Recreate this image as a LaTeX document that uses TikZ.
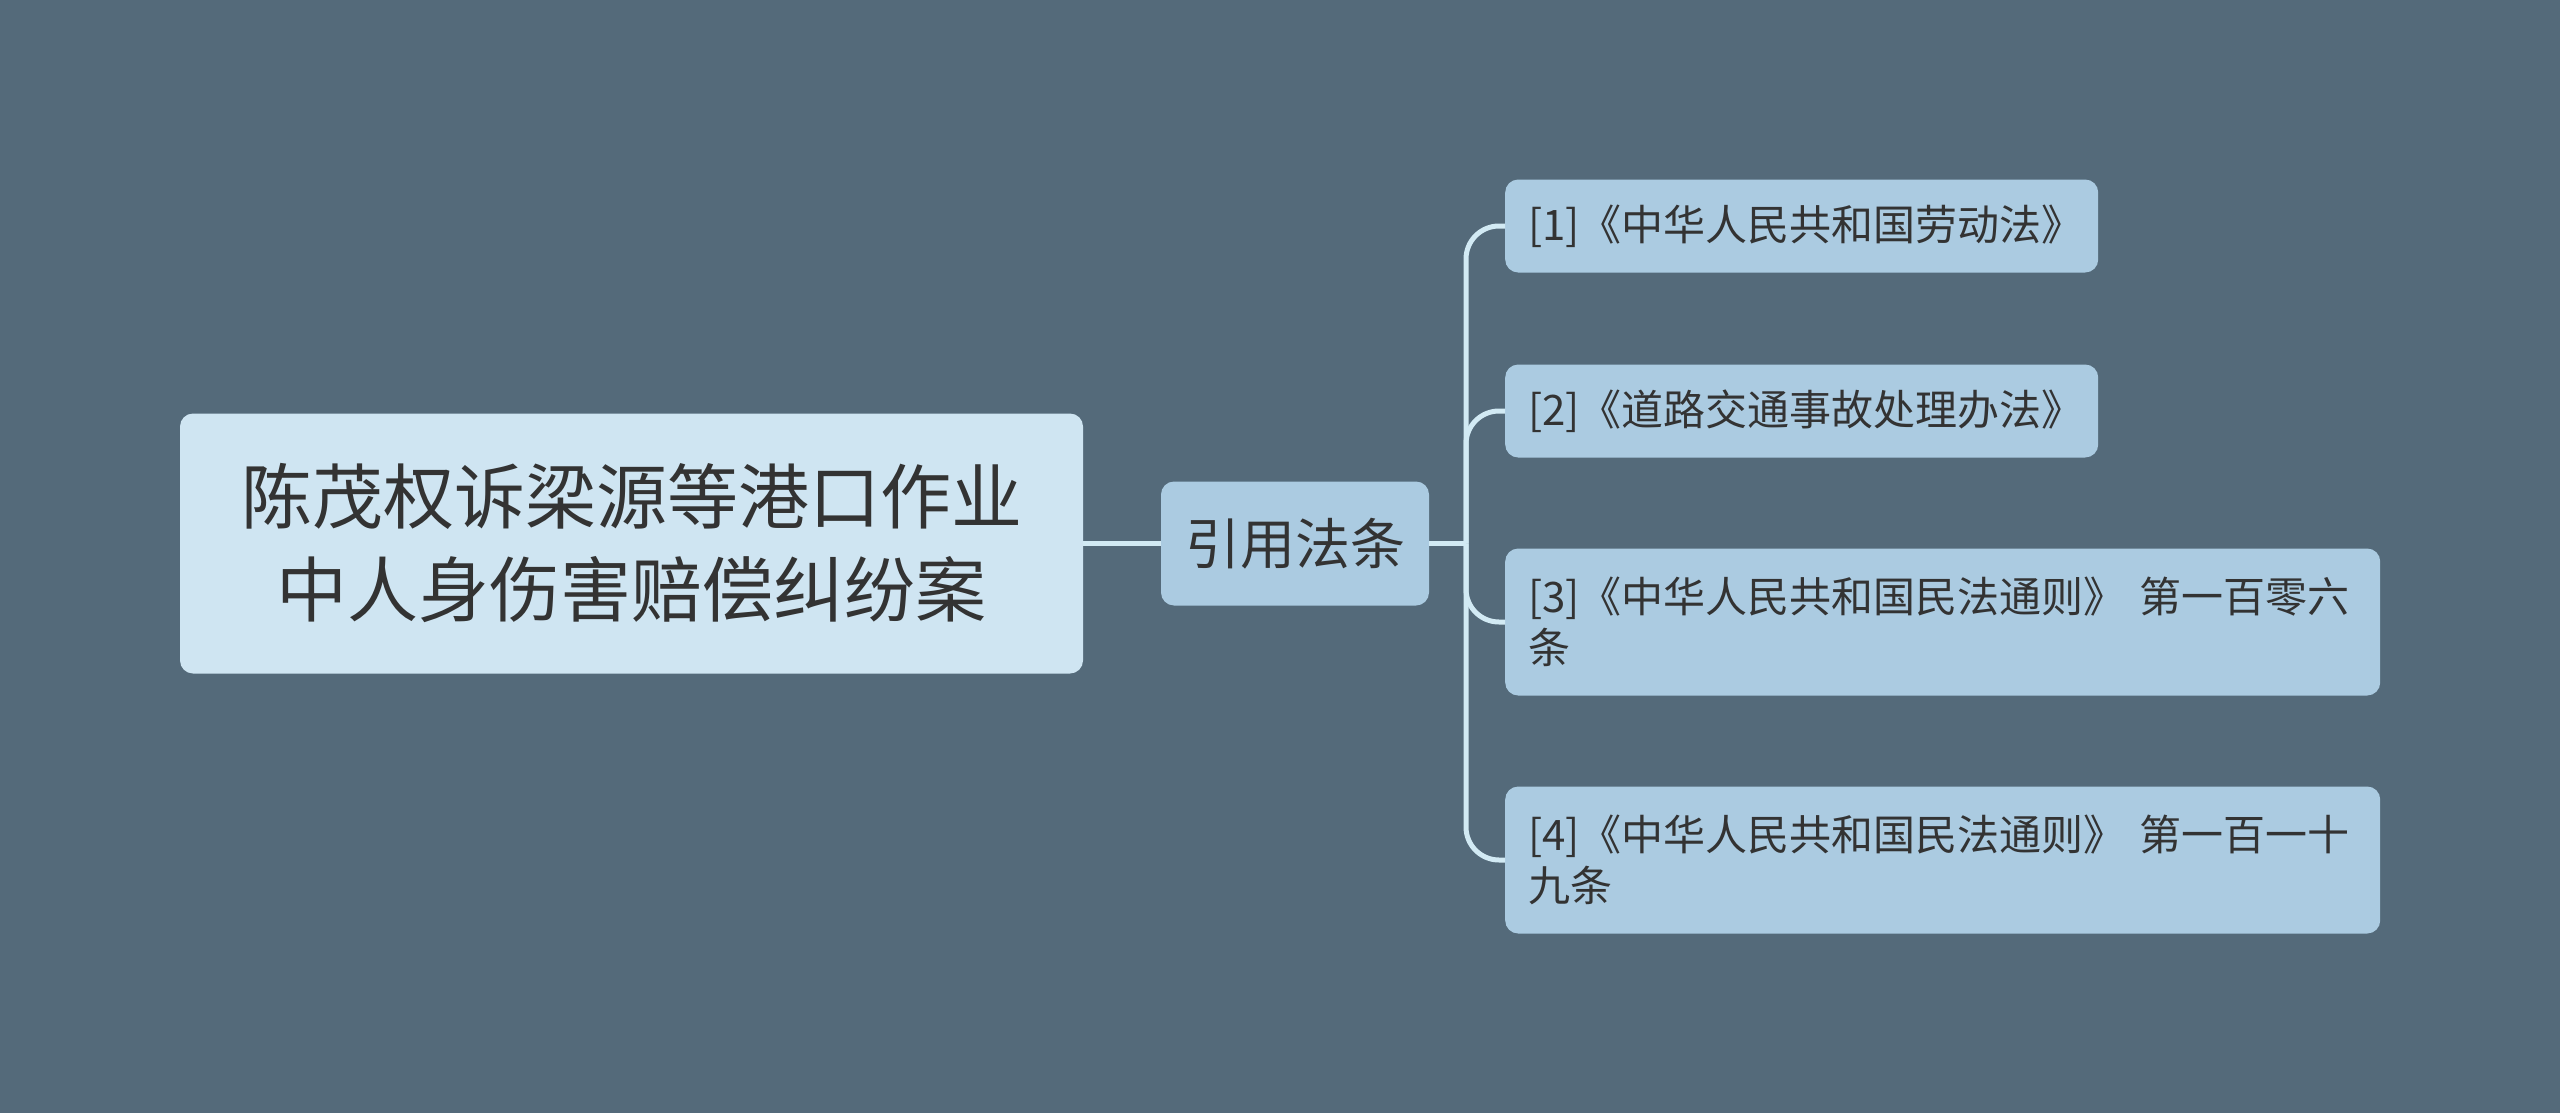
\documentclass[tikz,border=0pt]{standalone}
\usepackage{fontspec}
\setmainfont{Noto Sans CJK SC}
\definecolor{bgc}{HTML}{546A7A}
\definecolor{rootc}{HTML}{CFE5F2}
\definecolor{leafc}{HTML}{ABCBE1}
\definecolor{linec}{HTML}{D2EAF4}
\definecolor{txtc}{HTML}{333333}
\tikzset{
  rootbox/.style={fill=rootc, rounded corners=13pt, minimum width=903pt, minimum height=260pt, align=center, text=txtc, inner sep=0pt, font=\fontsize{71}{93}\selectfont},
  midbox/.style={fill=leafc, rounded corners=13pt, minimum width=268pt, minimum height=124pt, align=center, text=txtc, inner sep=0pt, font=\fontsize{55}{60}\selectfont},
  leafbox/.style={fill=leafc, rounded corners=13pt, anchor=west, align=left, text=txtc, inner xsep=23pt, inner ysep=0pt, font=\fontsize{42}{51}\selectfont},
  conn/.style={draw=linec, line width=5pt},
}
\begin{document}
\begin{tikzpicture}[x=1pt,y=-1pt]
\fill[bgc] (0,0) rectangle (2560,1113);
\useasboundingbox (0,0) rectangle (2560,1113);
\node[rootbox] (root) at (631.5,543.5) {陈茂权诉梁源等港口作业\\中人身伤害赔偿纠纷案};
\node[midbox] (mid) at (1295,543.5) {引用法条};
\node[leafbox, text width=547pt, minimum height=93pt] (l1) at (1505,226) {[1]《中华人民共和国劳动法》};
\node[leafbox, text width=547pt, minimum height=93pt] (l2) at (1505,411) {[2]《道路交通事故处理办法》};
\node[leafbox, text width=829pt, minimum height=147pt] (l3) at (1505,622) {[3]《中华人民共和国民法通则》 第一百零六\\条};
\node[leafbox, text width=829pt, minimum height=147pt] (l4) at (1505,860) {[4]《中华人民共和国民法通则》 第一百一十\\九条};
\coordinate (tr) at (1466,543.5);
\draw[conn] (root.east) -- (mid.west);
\draw[conn] (mid.east) -- (tr);
\foreach \n in {l1,l2,l3,l4}{
  \draw[conn, rounded corners=33pt] (tr) |- (\n.west);
}
\end{tikzpicture}
\end{document}
